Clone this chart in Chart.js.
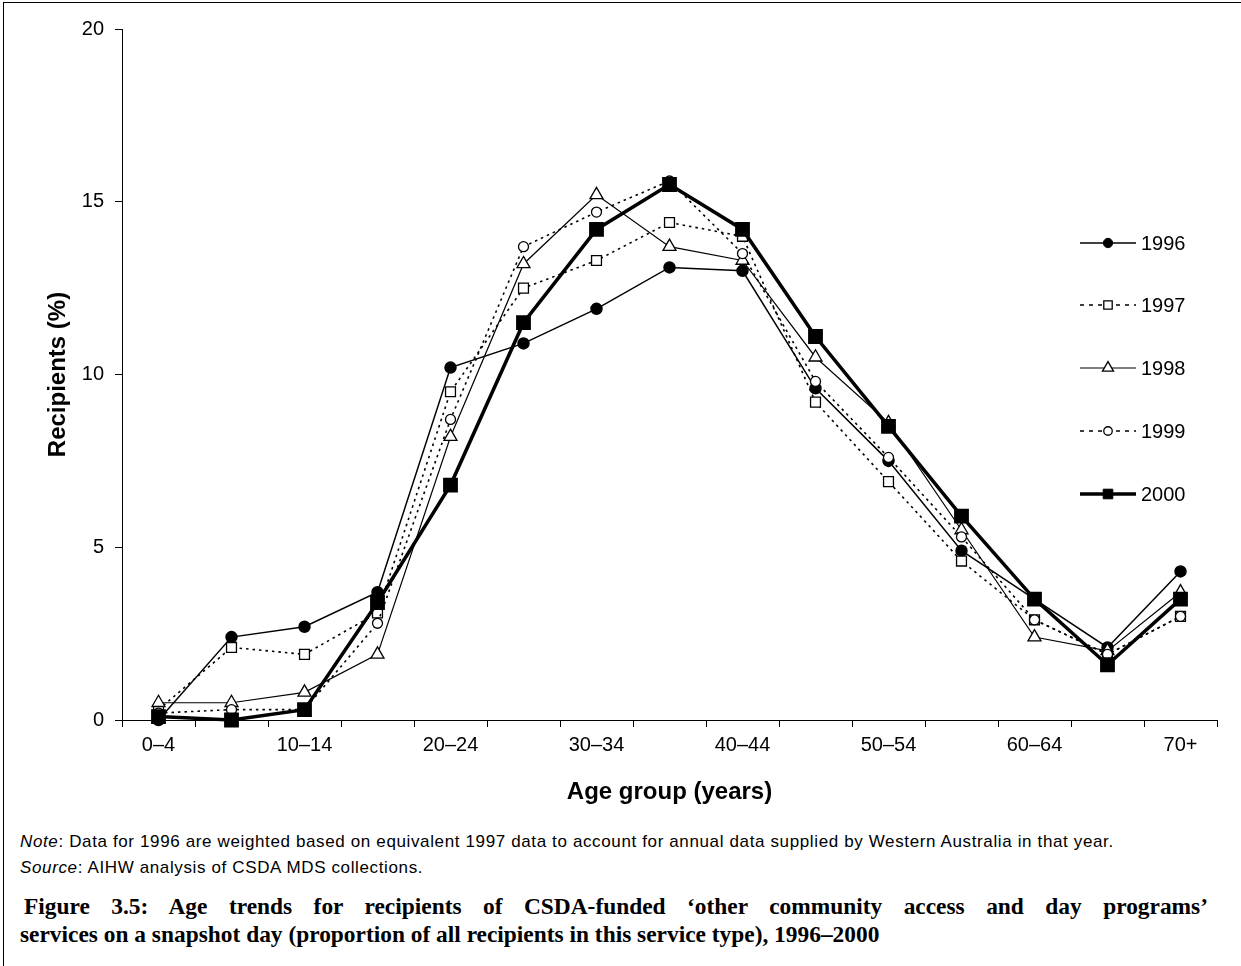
<!DOCTYPE html>
<html>
<head>
<meta charset="utf-8">
<script src="https://cdn.jsdelivr.net/npm/chart.js@4/dist/chart.umd.min.js"></script>
<style>
  body { margin: 0; background: #fff; }
  #wrap { position: relative; width: 1241px; height: 966px; overflow: hidden; background: #fff; }
  #chart { position: absolute; left: 0; top: 0; }
  .frameTop { position: absolute; left: 3px; top: 2px; width: 1238px; height: 1px; background: #000; }
  .frameLeft { position: absolute; left: 3px; top: 2px; width: 1px; height: 964px; background: #000; }
  .note { position: absolute; left: 20px; font-family: 'Liberation Sans', Arial, sans-serif; font-size: 17px; letter-spacing: 0.63px; line-height: 20px; color: #000; white-space: nowrap; }
  .caption { position: absolute; font-family: 'Liberation Serif', 'Times New Roman', serif; font-weight: bold; font-size: 23.4px; line-height: 28px; color: #000; white-space: nowrap; }
  .justify { text-align: justify; text-align-last: justify; white-space: normal; }
</style>
</head>
<body>
<div id="wrap">
  <canvas id="chart" width="1241" height="820"></canvas>
  <div class="frameTop"></div>
  <div class="frameLeft"></div>
  <div class="note" style="top:832px"><i>Note</i>: Data for 1996 are weighted based on equivalent 1997 data to account for annual data supplied by Western Australia in that year.</div>
  <div class="note" style="top:858px"><i>Source</i>: AIHW analysis of CSDA MDS collections.</div>
  <div class="caption justify" style="left:24px; top:892px; width:1184px">Figure 3.5: Age trends for recipients of CSDA-funded ‘other community access and day programs’</div>
  <div class="caption" style="left:20px; top:920px">services on a snapshot day (proportion of all recipients in this service type), 1996–2000</div>
</div>
<script>
// data
const ageGroups = ['0–4', '5–9', '10–14', '15–19', '20–24', '25–29', '30–34', '35–39',
                   '40–44', '45–49', '50–54', '55–59', '60–64', '65–69', '70+'];
const years = ['1996', '1997', '1998', '1999', '2000'];
const y1996 = [0.0, 2.4, 2.7, 3.7, 10.2, 10.9, 11.9, 13.1, 13.0, 9.6, 7.5, 4.9, 3.5, 2.1, 4.3];
const y1997 = [0.3, 2.1, 1.9, 3.1, 9.5, 12.5, 13.3, 14.4, 14.0, 9.2, 6.9, 4.6, 2.9, 1.9, 3.0];
const y1998 = [0.5, 0.5, 0.8, 1.9, 8.2, 13.2, 15.2, 13.7, 13.3, 10.5, 8.6, 5.5, 2.4, 2.0, 3.7];
const y1999 = [0.2, 0.3, 0.3, 2.8, 8.7, 13.7, 14.7, 15.6, 13.5, 9.8, 7.6, 5.3, 2.9, 1.9, 3.0];
const y2000 = [0.1, 0.0, 0.3, 3.4, 6.8, 11.5, 14.2, 15.5, 14.2, 11.1, 8.5, 5.9, 3.5, 1.6, 3.5];
const yTicks = [0, 5, 10, 15, 20];

Chart.defaults.font.family = "'Liberation Sans', Arial, sans-serif";
Chart.defaults.color = '#000';

const dotted = [2.5, 4];

const ds = [
    { label: years[0], data: y1996, borderColor: '#000', backgroundColor: '#000', borderWidth: 1.5,
      pointStyle: 'circle', pointRadius: 5.5, pointBackgroundColor: '#000', order: 4 },
    { label: years[1], data: y1997, borderColor: '#000', backgroundColor: '#fff', borderWidth: 1.6, borderDash: dotted,
      pointStyle: 'rect', pointRadius: 7, pointBackgroundColor: '#fff', pointBorderWidth: 1.3, order: 3 },
    { label: years[2], data: y1998, borderColor: '#000', backgroundColor: '#fff', borderWidth: 1.2,
      pointStyle: 'triangle', pointRadius: 7.5, pointBackgroundColor: '#fff', pointBorderWidth: 1.3, order: 2 },
    { label: years[3], data: y1999, borderColor: '#000', backgroundColor: '#fff', borderWidth: 1.6, borderDash: dotted,
      pointStyle: 'circle', pointRadius: 5, pointBackgroundColor: '#fff', pointBorderWidth: 1.3, order: 1 },
    { label: years[4], data: y2000, borderColor: '#000', backgroundColor: '#000', borderWidth: 3.5,
      pointStyle: 'rect', pointRadius: 8, pointBackgroundColor: '#000', order: 0 }
];
ds.forEach(d => { d.tension = 0; d.fill = false; d.clip = false; d.pointBorderColor = '#000'; });

// legend drawn inside the plot, like the original
const innerLegend = {
    id: 'innerLegend',
    afterDatasetsDraw(chart) {
        const ctx = chart.ctx;
        const ys = [243, 305, 368, 431, 494];
        ctx.save();
        chart.data.datasets.forEach((d, i) => {
            const y = ys[i];
            ctx.strokeStyle = '#000';
            ctx.lineWidth = d.borderWidth;
            ctx.setLineDash(d.borderDash ? [4, 5] : []);
            ctx.beginPath();
            ctx.moveTo(1080, y);
            ctx.lineTo(1136, y);
            ctx.stroke();
            ctx.setLineDash([]);
            ctx.fillStyle = d.pointBackgroundColor;
            ctx.lineWidth = d.pointBorderWidth || 1;
            Chart.helpers.drawPoint(ctx, { pointStyle: d.pointStyle, radius: d.pointRadius * 0.85,
                borderWidth: d.pointBorderWidth || 1, rotation: 0 }, 1108, y);
            ctx.fillStyle = '#000';
            ctx.font = "20px 'Liberation Sans', Arial, sans-serif";
            ctx.textBaseline = 'middle';
            ctx.textAlign = 'left';
            ctx.fillText(d.label, 1141, y + 1);
        });
        ctx.restore();
    }
};

new Chart(document.getElementById('chart').getContext('2d'), {
    type: 'line',
    data: { labels: ageGroups, datasets: ds },
    options: {
        responsive: false,
        animation: false,
        devicePixelRatio: 1,
        layout: { padding: { left: 0, top: 29, right: 24, bottom: 0 } },
        plugins: { legend: { display: false }, tooltip: { enabled: false } },
        scales: {
            x: {
                offset: true,
                grid: { offset: true, drawOnChartArea: false, drawTicks: true, tickLength: 7, color: '#000' },
                border: { color: '#000', width: 1 },
                ticks: {
                    autoSkip: false, maxRotation: 0, padding: 6, font: { size: 20 },
                    callback: (v, i) => (i % 2 === 0 ? ageGroups[i] : '')
                },
                title: { display: true, text: 'Age group (years)', font: { size: 24, weight: 'bold' },
                         padding: { top: 0, bottom: 13.6 } },
                afterFit: s => { s.height = 100; }
            },
            y: {
                min: 0, max: 20,
                afterBuildTicks: s => { s.ticks = yTicks.map(v => ({ value: v })); },
                grid: { drawOnChartArea: false, drawTicks: true, tickLength: 7, color: '#000' },
                border: { color: '#000', width: 1 },
                ticks: { padding: 11, font: { size: 20 } },
                title: { display: true, text: 'Recipients (%)', font: { size: 24, weight: 'bold' },
                         padding: { top: 43.6, bottom: 0 } },
                afterFit: s => { s.width = 122; }
            }
        }
    },
    plugins: [innerLegend]
});
</script>
</body>
</html>
